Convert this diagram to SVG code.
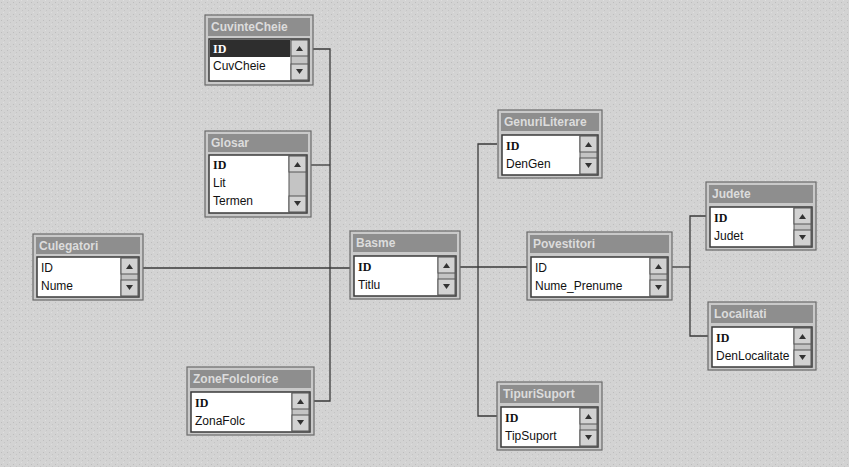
<svg xmlns="http://www.w3.org/2000/svg" width="849" height="467" viewBox="0 0 849 467">
<style>
.frame{fill:#c9c9c9;stroke:#6a6a6a;stroke-width:1.2}
.title{fill:#8e8e8e}
.ttxt{font-family:"Liberation Sans",Arial,sans-serif;font-size:12px;font-weight:bold;fill:#dcdcdc}
.list{fill:#ffffff;stroke:#3a3a3a;stroke-width:1.5}
.fld{font-family:"Liberation Sans",Arial,sans-serif;font-size:12px;fill:#111}
.pk{font-family:"Liberation Serif","Times New Roman",serif;font-size:12px;font-weight:bold;fill:#111}
.sb{fill:#c4c4c4;stroke:#555;stroke-width:1}
.btn{fill:#d2d2d2;stroke:#555;stroke-width:1}
.arr{fill:#333}
.con{fill:none;stroke:#3a3a3a;stroke-width:1.3}
</style>
<defs>
<pattern id="noise" width="6" height="6" patternUnits="userSpaceOnUse">
<rect width="6" height="6" fill="#d3d3d3"/>
<rect x="1" y="2" width="1" height="1" fill="#bdbdbd"/>
<rect x="4" y="4" width="1" height="1" fill="#c4c4c4"/>
<rect x="3" y="0" width="1" height="1" fill="#dedede"/>
</pattern>
</defs>
<rect width="849" height="467" fill="url(#noise)"/>

<g id="connectors">
<path class="con" d="M313,49 H330 V401 H314"/>
<path class="con" d="M311,165 H330"/>
<path class="con" d="M143,268 H350"/>
<path class="con" d="M460,267 H527"/>
<path class="con" d="M497,144 H478 V416 H497"/>
<path class="con" d="M672,267 H690"/>
<path class="con" d="M706,216 H690 V336 H708"/>
</g>

<g id="CuvinteCheie">
<rect class="frame" x="205" y="15" width="108" height="70"/>
<rect class="title" x="208" y="18" width="102" height="18"/>
<text class="ttxt" x="211" y="31">CuvinteCheie</text>
<rect class="list" x="209" y="39" width="100" height="42"/>
<rect x="210" y="40" width="80" height="17" fill="#2e2e2e"/>
<text class="pk" x="213" y="53" fill="#fff" style="fill:#fff">ID</text>
<text class="fld" x="213" y="70">CuvCheie</text>
<rect class="sb" x="291" y="40" width="17" height="40"/>
<rect class="btn" x="291" y="40" width="17" height="16"/>
<path class="arr" d="M296,51 L299.5,46 L303,51Z"/>
<rect class="btn" x="291" y="64" width="17" height="16"/>
<path class="arr" d="M296,69 L299.5,74 L303,69Z"/>
</g>

<g id="Glosar">
<rect class="frame" x="205" y="131" width="106" height="86"/>
<rect class="title" x="208" y="134" width="100" height="18"/>
<text class="ttxt" x="211" y="147">Glosar</text>
<rect class="list" x="209" y="155" width="98" height="58"/>
<text class="pk" x="213" y="169">ID</text>
<text class="fld" x="213" y="187">Lit</text>
<text class="fld" x="213" y="205">Termen</text>
<rect class="sb" x="289" y="156" width="17" height="56"/>
<rect class="btn" x="289" y="156" width="17" height="16"/>
<path class="arr" d="M294,167 L297.5,162 L301,167Z"/>
<rect class="btn" x="289" y="196" width="17" height="16"/>
<path class="arr" d="M294,201 L297.5,206 L301,201Z"/>
</g>

<g id="Culegatori">
<rect class="frame" x="33" y="234" width="110" height="66"/>
<rect class="title" x="36" y="237" width="104" height="17"/>
<text class="ttxt" x="39" y="250">Culegatori</text>
<rect class="list" x="37" y="257" width="102" height="40"/>
<text class="fld" x="41" y="272">ID</text>
<text class="fld" x="41" y="290">Nume</text>
<rect class="sb" x="121" y="258" width="17" height="38"/>
<rect class="btn" x="121" y="258" width="17" height="16"/>
<path class="arr" d="M126,269 L129.5,264 L133,269Z"/>
<rect class="btn" x="121" y="280" width="17" height="16"/>
<path class="arr" d="M126,285 L129.5,290 L133,285Z"/>
</g>

<g id="Basme">
<rect class="frame" x="350" y="231" width="110" height="68"/>
<rect class="title" x="353" y="234" width="104" height="18"/>
<text class="ttxt" x="356" y="247">Basme</text>
<rect class="list" x="354" y="256" width="102" height="40"/>
<text class="pk" x="358" y="271">ID</text>
<text class="fld" x="358" y="289">Titlu</text>
<rect class="sb" x="438" y="257" width="17" height="38"/>
<rect class="btn" x="438" y="257" width="17" height="16"/>
<path class="arr" d="M443,268 L446.5,263 L450,268Z"/>
<rect class="btn" x="438" y="279" width="17" height="16"/>
<path class="arr" d="M443,284 L446.5,289 L450,284Z"/>
</g>

<g id="GenuriLiterare">
<rect class="frame" x="498" y="110" width="104" height="68"/>
<rect class="title" x="501" y="113" width="98" height="18"/>
<text class="ttxt" x="504" y="126">GenuriLiterare</text>
<rect class="list" x="502" y="135" width="96" height="40"/>
<text class="pk" x="506" y="150">ID</text>
<text class="fld" x="506" y="168">DenGen</text>
<rect class="sb" x="580" y="136" width="17" height="38"/>
<rect class="btn" x="580" y="136" width="17" height="16"/>
<path class="arr" d="M585,147 L588.5,142 L592,147Z"/>
<rect class="btn" x="580" y="158" width="17" height="16"/>
<path class="arr" d="M585,163 L588.5,168 L592,163Z"/>
</g>

<g id="Povestitori">
<rect class="frame" x="527" y="232" width="145" height="68"/>
<rect class="title" x="530" y="235" width="139" height="18"/>
<text class="ttxt" x="533" y="248">Povestitori</text>
<rect class="list" x="531" y="257" width="137" height="40"/>
<text class="fld" x="535" y="272">ID</text>
<text class="fld" x="535" y="290">Nume_Prenume</text>
<rect class="sb" x="650" y="258" width="17" height="38"/>
<rect class="btn" x="650" y="258" width="17" height="16"/>
<path class="arr" d="M655,269 L658.5,264 L662,269Z"/>
<rect class="btn" x="650" y="280" width="17" height="16"/>
<path class="arr" d="M655,285 L658.5,290 L662,285Z"/>
</g>

<g id="Judete">
<rect class="frame" x="706" y="182" width="110" height="68"/>
<rect class="title" x="709" y="185" width="104" height="18"/>
<text class="ttxt" x="712" y="198">Judete</text>
<rect class="list" x="710" y="207" width="102" height="40"/>
<text class="pk" x="714" y="222">ID</text>
<text class="fld" x="714" y="240">Judet</text>
<rect class="sb" x="794" y="208" width="17" height="38"/>
<rect class="btn" x="794" y="208" width="17" height="16"/>
<path class="arr" d="M799,219 L802.5,214 L806,219Z"/>
<rect class="btn" x="794" y="230" width="17" height="16"/>
<path class="arr" d="M799,235 L802.5,240 L806,235Z"/>
</g>

<g id="Localitati">
<rect class="frame" x="708" y="302" width="108" height="68"/>
<rect class="title" x="711" y="305" width="102" height="18"/>
<text class="ttxt" x="714" y="318">Localitati</text>
<rect class="list" x="712" y="327" width="100" height="40"/>
<text class="pk" x="716" y="342">ID</text>
<text class="fld" x="716" y="360">DenLocalitate</text>
<rect class="sb" x="794" y="328" width="17" height="38"/>
<rect class="btn" x="794" y="328" width="17" height="16"/>
<path class="arr" d="M799,339 L802.5,334 L806,339Z"/>
<rect class="btn" x="794" y="350" width="17" height="16"/>
<path class="arr" d="M799,355 L802.5,360 L806,355Z"/>
</g>

<g id="ZoneFolclorice">
<rect class="frame" x="187" y="367" width="127" height="68"/>
<rect class="title" x="190" y="370" width="121" height="18"/>
<text class="ttxt" x="193" y="383">ZoneFolclorice</text>
<rect class="list" x="191" y="392" width="119" height="40"/>
<text class="pk" x="195" y="407">ID</text>
<text class="fld" x="195" y="425">ZonaFolc</text>
<rect class="sb" x="292" y="393" width="17" height="38"/>
<rect class="btn" x="292" y="393" width="17" height="16"/>
<path class="arr" d="M297,404 L300.5,399 L304,404Z"/>
<rect class="btn" x="292" y="415" width="17" height="16"/>
<path class="arr" d="M297,420 L300.5,425 L304,420Z"/>
</g>

<g id="TipuriSuport">
<rect class="frame" x="497" y="382" width="105" height="68"/>
<rect class="title" x="500" y="385" width="99" height="18"/>
<text class="ttxt" x="503" y="398">TipuriSuport</text>
<rect class="list" x="501" y="407" width="97" height="40"/>
<text class="pk" x="505" y="422">ID</text>
<text class="fld" x="505" y="440">TipSuport</text>
<rect class="sb" x="580" y="408" width="17" height="38"/>
<rect class="btn" x="580" y="408" width="17" height="16"/>
<path class="arr" d="M585,419 L588.5,414 L592,419Z"/>
<rect class="btn" x="580" y="430" width="17" height="16"/>
<path class="arr" d="M585,435 L588.5,440 L592,435Z"/>
</g>
</svg>
